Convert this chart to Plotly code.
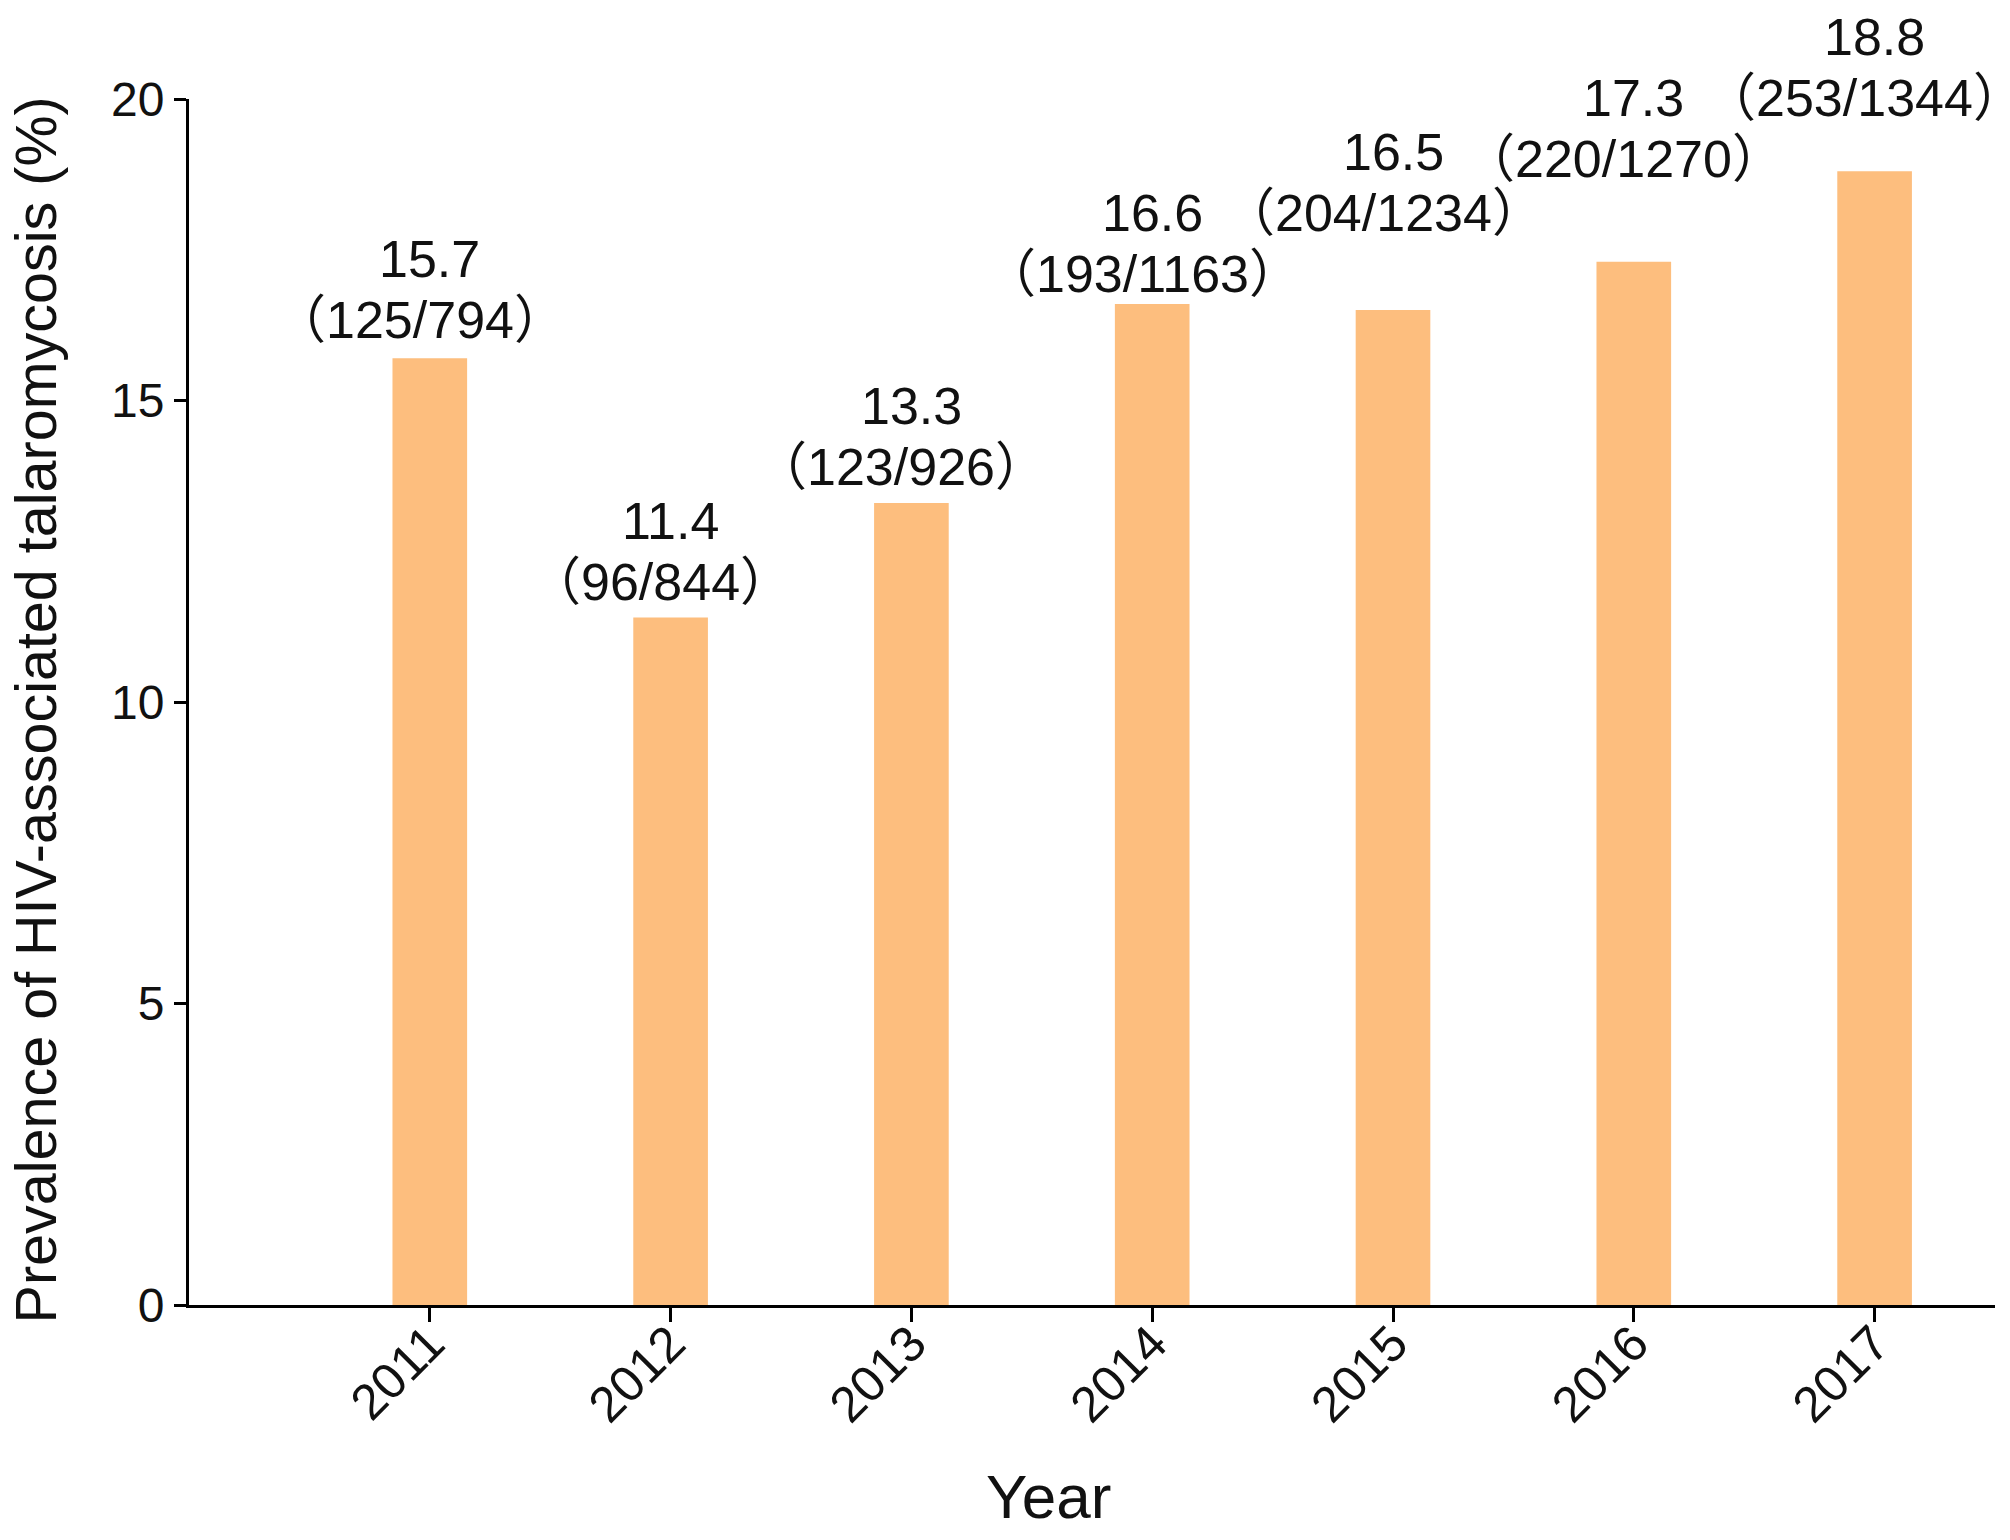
import plotly.graph_objects as go

# ---- data ----
years = ["2011", "2012", "2013", "2014", "2015", "2016", "2017"]
prevalence = [15.7, 11.4, 13.3, 16.6, 16.5, 17.3, 18.8]
cases = [125, 96, 123, 193, 204, 220, 253]
totals = [794, 844, 926, 1163, 1234, 1270, 1344]
y_ticks = [0, 5, 10, 15, 20]
x_title = "Year"
y_title = "Prevalence of HIV-associated talaromycosis (%)"

# ---- style ----
FONT = "Arial, Liberation Sans, Noto Sans CJK SC, sans-serif"
CJK = "Noto Sans CJK SC"
BAR_COLOR = "#FDBE7E"
LABEL_SIZE = 52
# gap (px) between the baseline of the lower label line and the bar top (staggered labels)
label_gap = [20, 18, 18, 12, 79, 85, 55]
LINE_PITCH = 60

fig = go.Figure()
fig.add_trace(go.Bar(
    x=years, y=prevalence,
    marker=dict(color=BAR_COLOR, line=dict(width=0)),
    width=0.31,
    showlegend=False,
))

lp = f"<span style='font-family:{CJK}'>（</span>"
rp = f"<span style='font-family:{CJK}'>）</span>"
for i, (v, n, N, g) in enumerate(zip(prevalence, cases, totals, label_gap)):
    # lower line: (cases/total)
    fig.add_annotation(
        x=i, y=v, xref="x", yref="y",
        text=f"{lp}{n}/{N}{rp}",
        showarrow=False, yanchor="bottom", xanchor="center",
        yshift=g - 17, xshift=-10,
        font=dict(family=FONT, size=LABEL_SIZE, color="#111111"),
    )
    # upper line: prevalence value
    fig.add_annotation(
        x=i, y=v, xref="x", yref="y",
        text=f"{v:.1f}",
        showarrow=False, yanchor="bottom", xanchor="center",
        yshift=g + LINE_PITCH - 12,
        font=dict(family=FONT, size=LABEL_SIZE, color="#111111"),
    )

fig.add_annotation(
    x=0.476, y=-0.159, xref="paper", yref="paper",
    text=x_title, showarrow=False, xanchor="center", yanchor="middle",
    font=dict(family=FONT, size=62, color="#111111"),
)
fig.add_annotation(
    x=-0.0847, y=0.493, xref="paper", yref="paper",
    text=y_title, textangle=-90, showarrow=False,
    xanchor="center", yanchor="middle",
    font=dict(family=FONT, size=57.5, color="#111111"),
)

fig.update_layout(
    width=2010, height=1540,
    margin=dict(l=189, r=15, t=99, b=235),
    paper_bgcolor="white", plot_bgcolor="white",
    font=dict(family=FONT, color="#111111"),
)
fig.update_xaxes(
    type="category", range=[-1, 6.5],
    showline=True, linecolor="black", linewidth=3,
    ticks="outside", ticklen=14, tickwidth=2.5, tickcolor="black",
    tickangle=-45, tickfont=dict(family=FONT, size=50, color="#111111"),
    ticklabelstandoff=-28,
    showgrid=False, zeroline=False,
)
fig.update_yaxes(
    range=[0, 20], tickvals=y_ticks,
    showline=True, linecolor="black", linewidth=3,
    ticks="outside", ticklen=12, tickwidth=2.5, tickcolor="black",
    tickfont=dict(family=FONT, size=48, color="#111111"),
    showgrid=False, zeroline=False,
)

fig.write_html("out.html", config={"displayModeBar": False},
               post_script="document.body.style.margin='0px';")
